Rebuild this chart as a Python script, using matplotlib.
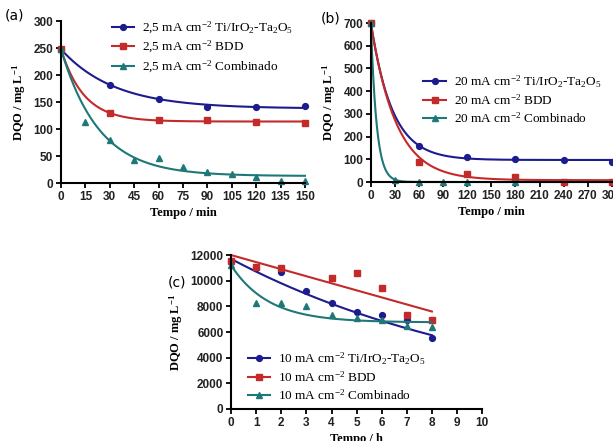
import numpy as np
import matplotlib
matplotlib.use("Agg")
import matplotlib.pyplot as plt

# ---------------- data ----------------
# Panel (a) 2.5 mA cm-2, time in min
a_t_ti = [0, 30, 60, 90, 120, 150]
a_ti = [248, 182, 156, 140, 140, 142]
a_t_bdd = [0, 30, 60, 90, 120, 150]
a_bdd = [248, 129, 116, 117, 114, 112]
a_t_comb = [0, 15, 30, 45, 60, 75, 90, 105, 120, 135, 150]
a_comb = [248, 114, 80, 43, 46, 30, 20, 16, 12, 3, 3]
# exponential fit parameters: (y0, plateau, k)
a_fit_ti = (248, 138, 0.0305)
a_fit_bdd = (248, 114, 0.071)
a_fit_comb = (248, 13, 0.0428)

# Panel (b) 20 mA cm-2, time in min
b_t_ti = [0, 60, 120, 180, 240, 300]
b_ti = [700, 160, 110, 100, 97, 88]
b_t_bdd = [0, 60, 120, 180, 240, 300]
b_bdd = [700, 90, 35, 20, 0, 0]
b_t_comb = [0, 30, 60, 90, 120, 180]
b_comb = [700, 10, 0, 0, 0, 0]
b_fit_ti = (700, 97, 0.0376)
b_fit_bdd = (700, 8, 0.032)
b_fit_comb = (700, 0, 0.14)

# Panel (c) 10 mA cm-2, time in h
c_t_ti = [0, 1, 2, 3, 4, 5, 6, 7, 8]
c_ti = [11500, 11000, 10700, 9200, 8300, 7600, 7300, 6900, 5500]
c_t_bdd = [0, 1, 2, 4, 5, 6, 7, 8]
c_bdd = [11500, 11100, 11000, 10200, 10600, 9400, 7300, 6900]
c_t_comb = [0, 1, 2, 3, 4, 5, 6, 7, 8]
c_comb = [11200, 8300, 8300, 8000, 7300, 7100, 6900, 6500, 6400]
c_fit_ti = (11700, 0, 0.0888)
c_lin_bdd = (12000, -550)  # intercept, slope
c_fit_comb = (11200, 6750, 0.67)

a_labels = ["2,5 mA cm$^{-2}$ Ti/IrO$_2$-Ta$_2$O$_5$", "2,5 mA cm$^{-2}$ BDD", "2,5 mA cm$^{-2}$ Combinado"]
b_labels = ["20 mA cm$^{-2}$ Ti/IrO$_2$-Ta$_2$O$_5$", "20 mA cm$^{-2}$ BDD", "20 mA cm$^{-2}$ Combinado"]
c_labels = ["10 mA cm$^{-2}$ Ti/IrO$_2$-Ta$_2$O$_5$", "10 mA cm$^{-2}$ BDD", "10 mA cm$^{-2}$ Combinado"]

BLUE = "#1c1c8e"
RED = "#c42a2a"
TEAL = "#1f7878"

plt.rcParams["mathtext.fontset"] = "custom"
plt.rcParams["mathtext.rm"] = "Liberation Serif"
plt.rcParams["mathtext.it"] = "Liberation Serif:italic"
plt.rcParams["mathtext.bf"] = "Liberation Serif:bold"

fig = plt.figure(figsize=(6.13, 4.41), dpi=100)

def expfit(t, p):
    y0, pl, k = p
    return pl + (y0 - pl) * np.exp(-k * t)

def style(ax, xlim, ylim, xticks, yticks, xlabel):
    ax.set_xlim(*xlim)
    ax.set_ylim(*ylim)
    ax.set_xticks(xticks)
    ax.set_yticks(yticks)
    for s in ["top", "right"]:
        ax.spines[s].set_visible(False)
    for s in ["left", "bottom"]:
        ax.spines[s].set_linewidth(1.5)
    ax.tick_params(direction="out", length=3.5, width=1.3, pad=2)
    for lab in ax.get_xticklabels() + ax.get_yticklabels():
        lab.set_fontfamily("Liberation Sans")
        lab.set_fontweight("bold")
        lab.set_fontsize(8.5)
        lab.set_color("#222222")
    ax.set_xlabel(xlabel, fontfamily="Liberation Serif", fontweight="bold", fontsize=9, labelpad=3)
    ax.set_ylabel("DQO / mg L$^{\\mathbf{-1}}$", fontfamily="Liberation Serif", fontweight="bold", fontsize=9, labelpad=4)

def series(ax, t, y, fit_t, fit_y, color, marker, label, ms):
    ax.plot(fit_t, fit_y, color=color, lw=1.5, clip_on=False)
    ax.plot(t, y, linestyle="none", marker=marker, color=color, ms=ms, clip_on=False)
    ax.plot([], [], color=color, lw=1.5, marker=marker, ms=ms, label=label)

leg_kw = dict(frameon=False, prop={"family": "Liberation Serif", "size": 9.5}, handlelength=1.7,
              handletextpad=0.6, labelspacing=0.25, borderpad=0.2)

# ---- (a)
axa = fig.add_axes([0.0995, 0.585, 0.398, 0.367])
ta = np.linspace(0, 150, 300)
series(axa, a_t_ti, a_ti, ta, expfit(ta, a_fit_ti), BLUE, "o", a_labels[0], 4.2)
series(axa, a_t_bdd, a_bdd, ta, expfit(ta, a_fit_bdd), RED, "s", a_labels[1], 4.2)
series(axa, a_t_comb, a_comb, ta, expfit(ta, a_fit_comb), TEAL, "^", a_labels[2], 4.2)
style(axa, (0, 150), (0, 300), np.arange(0, 151, 15), np.arange(0, 301, 50), "Tempo / min")
axa.legend(loc="upper left", bbox_to_anchor=(0.17, 1.065), **leg_kw)
fig.text(0.008, 0.955, "(a)", fontsize=10, fontfamily="DejaVu Sans")

# ---- (b)
axb = fig.add_axes([0.605, 0.5873, 0.393, 0.3605])
tb = np.linspace(0, 300, 600)
series(axb, b_t_ti, b_ti, tb, expfit(tb, b_fit_ti), BLUE, "o", b_labels[0], 4.2)
series(axb, b_t_bdd, b_bdd, tb, expfit(tb, b_fit_bdd), RED, "s", b_labels[1], 4.2)
series(axb, b_t_comb, b_comb, tb, expfit(tb, b_fit_comb), TEAL, "^", b_labels[2], 4.2)
style(axb, (0, 300), (0, 700), np.arange(0, 301, 30), np.arange(0, 701, 100), "Tempo / min")
axb.legend(loc="upper left", bbox_to_anchor=(0.18, 0.74), **leg_kw)
fig.text(0.523, 0.95, "(b)", fontsize=10, fontfamily="DejaVu Sans")

# ---- (c)
axc = fig.add_axes([0.377, 0.0726, 0.4095, 0.349])
tc = np.linspace(0, 8, 200)
series(axc, c_t_ti, c_ti, tc, expfit(tc, c_fit_ti), BLUE, "o", c_labels[0], 4.2)
series(axc, c_t_bdd, c_bdd, tc, c_lin_bdd[0] + c_lin_bdd[1] * tc, RED, "s", c_labels[1], 4.2)
series(axc, c_t_comb, c_comb, tc, expfit(tc, c_fit_comb), TEAL, "^", c_labels[2], 4.2)
style(axc, (0, 10), (0, 12000), np.arange(0, 11, 1), np.arange(0, 12001, 2000), "Tempo / h")
axc.legend(loc="upper left", bbox_to_anchor=(0.03, 0.44), **leg_kw)
fig.text(0.274, 0.35, "(c)", fontsize=10, fontfamily="DejaVu Sans")

fig.savefig("out.png", dpi=100)
